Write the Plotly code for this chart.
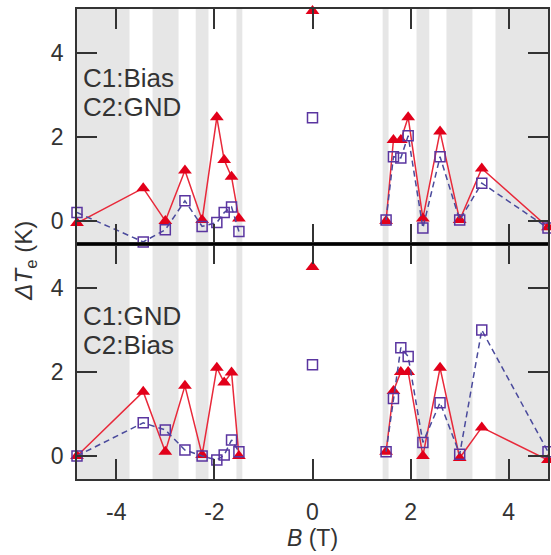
import plotly.graph_objects as go
from plotly.subplots import make_subplots

# Magnetic field values (T), split into the negative branch, zero field and positive branch
B_NEG = [-4.8, -3.45, -3.0, -2.6, -2.25, -1.95, -1.8, -1.65, -1.5]
B_ZERO = [0.0]
B_POS = [1.5, 1.65, 1.8, 1.95, 2.25, 2.6, 3.0, 3.45, 4.8]

# Upper panel: C1 biased, C2 grounded (ΔTe in K)
TRI_TOP_NEG = [-0.05, 0.78, 0.0, 1.2, 0.02, 2.47, 1.45, 1.05, 0.06]
TRI_TOP_ZERO = [5.0]
TRI_TOP_POS = [0.0, 1.93, 1.93, 2.47, 0.06, 2.13, 0.02, 1.25, -0.15]
SQ_TOP_NEG = [0.2, -0.5, -0.21, 0.48, -0.13, -0.04, 0.2, 0.33, -0.25]
SQ_TOP_ZERO = [2.46]
SQ_TOP_POS = [0.02, 1.53, 1.5, 2.03, -0.17, 1.53, 0.02, 0.9, -0.17]

# Lower panel: C1 grounded, C2 biased (ΔTe in K)
TRI_BOT_NEG = [0.0, 1.53, 0.1, 1.67, 0.02, 2.1, 1.75, 1.99, 0.0]
TRI_BOT_ZERO = [4.5]
TRI_BOT_POS = [0.1, 1.55, 2.0, 2.0, 0.0, 2.1, -0.05, 0.68, -0.1]
SQ_BOT_NEG = [0.0, 0.79, 0.62, 0.14, 0.0, -0.1, 0.02, 0.38, 0.1]
SQ_BOT_ZERO = [2.17]
SQ_BOT_POS = [0.1, 1.37, 2.58, 2.37, 0.32, 1.27, 0.04, 3.0, 0.1]

# Field ranges shaded in grey
SHADED = [(-4.8, -3.73), (-3.26, -2.73), (-2.38, -2.12), (-1.55, -1.43),
          (1.43, 1.55), (2.12, 2.38), (2.73, 3.26), (3.73, 4.8)]

X_TICKS = [-4, -2, 0, 2, 4]
X_TICK_TEXT = ["-4", "-2", "0", "2", "4"]
Y_TICKS = [0, 2, 4]

RED = "#e2001a"
RED_LINE = "#e8293a"
PURPLE = "#5a35a0"
PURPLE_LINE = "#4a4a9c"
FONT = "Liberation Sans, Arial, sans-serif"
INK = "#333333"

fig = make_subplots(rows=2, cols=1, shared_xaxes=True, vertical_spacing=0)

panels = [
    (1, TRI_TOP_NEG, TRI_TOP_ZERO, TRI_TOP_POS, SQ_TOP_NEG, SQ_TOP_ZERO, SQ_TOP_POS),
    (2, TRI_BOT_NEG, TRI_BOT_ZERO, TRI_BOT_POS, SQ_BOT_NEG, SQ_BOT_ZERO, SQ_BOT_POS),
]

for row, tn, tz, tp, sn, sz, sp in panels:
    # connecting lines on each branch (zero-field point stays isolated)
    for xs, ys in ((B_NEG, tn), (B_POS, tp)):
        fig.add_trace(go.Scatter(x=xs, y=ys, mode="lines",
                                 line=dict(color=RED_LINE, width=1.5),
                                 showlegend=False, hoverinfo="skip"), row=row, col=1)
    fig.add_trace(go.Scatter(x=B_NEG + B_ZERO + B_POS, y=tn + tz + tp, mode="markers",
                             marker=dict(symbol="triangle-up", size=12, color=RED,
                                         line=dict(width=0)),
                             cliponaxis=False, showlegend=False), row=row, col=1)
    for xs, ys in ((B_NEG, sn), (B_POS, sp)):
        fig.add_trace(go.Scatter(x=xs, y=ys, mode="lines",
                                 line=dict(color=PURPLE_LINE, width=1.5, dash="6px,4px"),
                                 showlegend=False, hoverinfo="skip"), row=row, col=1)
    fig.add_trace(go.Scatter(x=B_NEG + B_ZERO + B_POS, y=sn + sz + sp, mode="markers",
                             marker=dict(symbol="square-open", size=10, color=PURPLE,
                                         line=dict(width=1.5, color=PURPLE)),
                             cliponaxis=False, showlegend=False), row=row, col=1)

axis_style = dict(showline=True, linecolor=INK, linewidth=1.5, mirror="ticks",
                  ticks="inside", ticklen=20, tickwidth=1.5, tickcolor=INK,
                  showgrid=False, zeroline=False,
                  tickfont=dict(family=FONT, size=23, color=INK))

fig.update_xaxes(range=[-4.8, 4.8], tickvals=X_TICKS, ticktext=X_TICK_TEXT, **axis_style)
fig.update_xaxes(showticklabels=False, row=1, col=1)
fig.update_xaxes(ticklabelstandoff=12,
                 title=dict(text="<i>B</i> (T)", font=dict(family=FONT, size=23, color=INK),
                            standoff=6),
                 row=2, col=1)
fig.update_yaxes(range=[-0.55, 5.05], tickvals=Y_TICKS, ticklabelstandoff=7, **axis_style)

shapes = []
for lo, hi in SHADED:
    shapes.append(dict(type="rect", xref="x", yref="paper", x0=lo, x1=hi, y0=0, y1=1,
                       fillcolor="#e6e6e6", line=dict(width=0), layer="below"))
# heavy divider between the two panels
shapes.append(dict(type="line", xref="paper", yref="paper", x0=0, x1=1, y0=0.5, y1=0.5,
                   line=dict(color="black", width=2.5)))

label_font = dict(family=FONT, size=26, color=INK)
annotations = [
    dict(text="C1:Bias", x=-4.72, y=3.4, xref="x", yref="y", xanchor="left",
         yanchor="middle", showarrow=False, font=label_font),
    dict(text="C2:GND", x=-4.72, y=2.72, xref="x", yref="y", xanchor="left",
         yanchor="middle", showarrow=False, font=label_font),
    dict(text="C1:GND", x=-4.72, y=3.34, xref="x2", yref="y2", xanchor="left",
         yanchor="middle", showarrow=False, font=label_font),
    dict(text="C2:Bias", x=-4.72, y=2.64, xref="x2", yref="y2", xanchor="left",
         yanchor="middle", showarrow=False, font=label_font),
    dict(text="<i>ΔT</i><sub>e</sub> (K)", x=-0.11, y=0.465, xref="paper", yref="paper",
         xanchor="center", yanchor="middle", textangle=-90, showarrow=False,
         font=dict(family=FONT, size=24, color=INK)),
]

fig.update_layout(width=551, height=555,
                  margin=dict(l=77, r=1, t=9, b=76),
                  plot_bgcolor="white", paper_bgcolor="white",
                  shapes=shapes, annotations=annotations,
                  font=dict(family=FONT, color=INK))

fig.write_html("out.html")
